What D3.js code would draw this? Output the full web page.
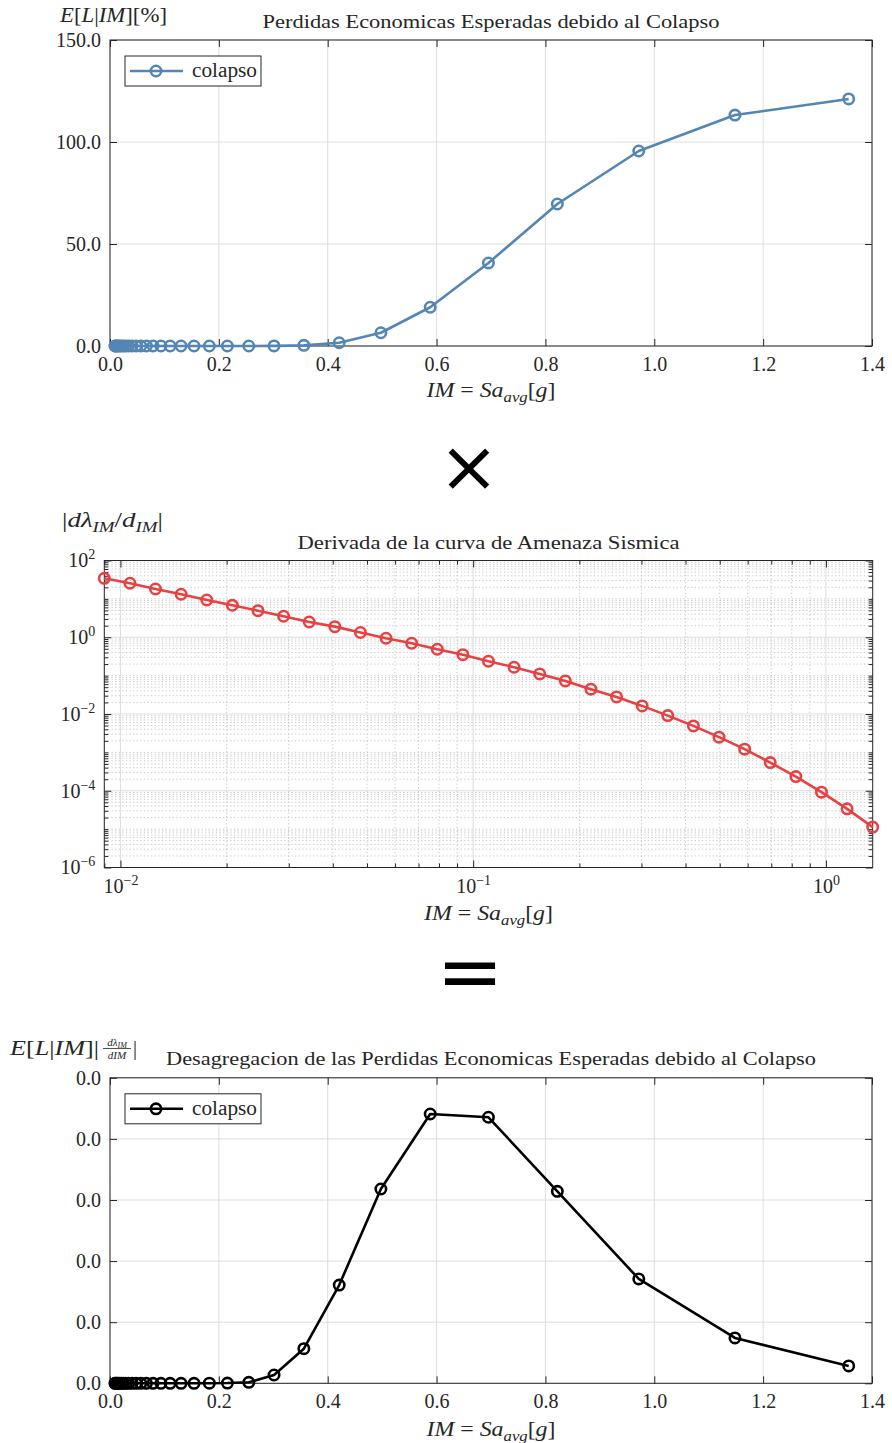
<!DOCTYPE html>
<html>
<head>
<meta charset="utf-8">
<script src="https://cdn.jsdelivr.net/npm/d3@7"></script>
<style>
  body { margin: 0; background: #fff; }
  svg { display: block; }
  text { font-family: "Liberation Serif", "Times New Roman", serif; fill: #262626; }
</style>
</head>
<body>
<svg id="fig" width="892" height="1443"></svg>
<script>
// Intensity measure levels, Sa_avg [g]
const imLevels = [0.00900, 0.01064, 0.01257, 0.01486, 0.01757, 0.02076, 0.02454, 0.02901,
  0.03429, 0.04053, 0.04791, 0.05662, 0.06693, 0.07911, 0.09351, 0.1105, 0.1306, 0.1544,
  0.1825, 0.2157, 0.2550, 0.3014, 0.3562, 0.4211, 0.4977, 0.5883, 0.6953, 0.8219, 0.9715,
  1.1482, 1.3572];

// Expected loss given IM due to collapse [%]
const lossPct = [0, 0, 0, 0, 0, 0, 0, 0, 0, 0, 0, 0, 0, 0, 0, 0, 0, 0,
  0.0001, 0.0005, 0.003, 0.04, 0.31, 1.6, 6.5, 19.0, 40.7, 69.6, 95.6, 113.2, 121.1];

// |d lambda_IM / d IM| of the seismic hazard curve
const hazardSlope = [34.4, 25.5, 18.1, 13.2, 9.36, 6.81, 4.93, 3.53, 2.50, 1.89, 1.33,
  0.942, 0.698, 0.487, 0.352, 0.237, 0.1655, 0.1107, 0.0728, 0.0443, 0.0279, 0.01625,
  0.00908, 0.0049, 0.00249, 0.00121, 0.000542, 0.000234, 9.2e-5, 3.38e-5, 1.13e-5];

// Disaggregated expected loss, E[L|IM] * |d lambda / d IM|
const lossDensity = [0, 0, 0, 0, 0, 0, 0, 0, 0, 0, 0, 0, 0, 0, 0, 0, 0, 0,
  1e-7, 2e-7, 8e-7, 6.8e-6, 2.83e-5, 8.04e-5, 1.59e-4, 2.204e-4, 2.177e-4, 1.571e-4,
  8.54e-5, 3.71e-5, 1.42e-5];

// Axis ticks
const imTicks = [0, 0.2, 0.4, 0.6, 0.8, 1.0, 1.2, 1.4];
const lossTicks = [0, 50, 100, 150];
const densityTicks = [0, 5e-5, 1e-4, 1.5e-4, 2e-4, 2.5e-4];
const imLogTicks = [0.01, 0.1, 1];
const slopeTicks = [1e-6, 1e-4, 1e-2, 1, 1e2];

const seriesName = "colapso";
const ink = "#262626";
const gridColor = "#dedede";
const markWidth = 2.6;
const markRadius = 5.2;
const svg = d3.select("#fig");

// Writes a run of text pieces (italic, shifted, resized) into one <text>
function mathText(parent, x, y, parts, size, anchor, fitWidth) {
  const t = parent.append("text")
    .attr("x", x).attr("y", y)
    .attr("font-size", size)
    .attr("text-anchor", anchor || "start");
  parts.forEach(p => {
    const s = t.append("tspan").text(p.t);
    if (p.i) s.attr("font-style", "italic");
    if (p.s) s.attr("font-size", p.s);
    if (p.dy) s.attr("dy", p.dy);
  });
  if (fitWidth) t.attr("textLength", fitWidth).attr("lengthAdjust", "spacingAndGlyphs");
  return t;
}

const imLabel = [
  { t: "IM", i: 1 }, { t: " = " }, { t: "Sa", i: 1 },
  { t: "avg", i: 1, s: 14, dy: 5 }, { t: "[", dy: -5 }, { t: "g", i: 1 }, { t: "]" }
];

function styleAxis(g) {
  g.attr("font-family", null).attr("font-size", 20).attr("color", ink);
  g.select(".domain").remove();
  g.selectAll(".tick line").attr("stroke", ink).attr("stroke-width", 1);
}

function drawSeries(g, x, y, yVals, color) {
  const pts = imLevels.map((v, i) => [v, yVals[i]]);
  g.append("path")
    .datum(pts)
    .attr("fill", "none")
    .attr("stroke", color)
    .attr("stroke-width", markWidth)
    .attr("stroke-linejoin", "round")
    .attr("d", d3.line().x(d => x(d[0])).y(d => y(d[1])));
  g.append("g").selectAll("circle").data(pts).join("circle")
    .attr("cx", d => x(d[0])).attr("cy", d => y(d[1]))
    .attr("r", markRadius)
    .attr("fill", "none")
    .attr("stroke", color)
    .attr("stroke-width", markWidth);
}

function drawLegend(g, x0, y0, color) {
  g.append("rect")
    .attr("x", x0).attr("y", y0).attr("width", 136).attr("height", 30)
    .attr("fill", "#fff").attr("stroke", ink).attr("stroke-width", 1);
  g.append("line")
    .attr("x1", x0 + 5).attr("x2", x0 + 58).attr("y1", y0 + 15).attr("y2", y0 + 15)
    .attr("stroke", color).attr("stroke-width", markWidth);
  g.append("circle")
    .attr("cx", x0 + 31).attr("cy", y0 + 15).attr("r", markRadius)
    .attr("fill", "none").attr("stroke", color).attr("stroke-width", markWidth);
  g.append("text")
    .attr("x", x0 + 67).attr("y", y0 + 21)
    .attr("font-size", 20)
    .attr("textLength", 65).attr("lengthAdjust", "spacingAndGlyphs")
    .text(seriesName);
}

// Linear panel (top and bottom)
function linearPanel(cfg) {
  const { x, y, yTicks, yVals, color, title, titleW, titleY, xLabelY } = cfg;
  const [X0, X1] = x.range();
  const [Y0, Y1] = y.range();
  const g = svg.append("g");

  g.append("g").selectAll("line").data(imTicks).join("line")
    .attr("x1", x).attr("x2", x).attr("y1", Y1).attr("y2", Y0)
    .attr("stroke", gridColor).attr("stroke-width", 1);
  g.append("g").selectAll("line").data(yTicks).join("line")
    .attr("x1", X0).attr("x2", X1).attr("y1", y).attr("y2", y)
    .attr("stroke", gridColor).attr("stroke-width", 1);

  g.append("g").attr("transform", `translate(0,${Y0})`)
    .call(d3.axisBottom(x).tickValues(imTicks).tickSize(-7).tickPadding(11).tickFormat(d3.format(".1f")))
    .call(styleAxis);
  g.append("g").attr("transform", `translate(0,${Y1})`)
    .call(d3.axisTop(x).tickValues(imTicks).tickSize(-7).tickFormat(""))
    .call(styleAxis);
  g.append("g").attr("transform", `translate(${X0},0)`)
    .call(d3.axisLeft(y).tickValues(yTicks).tickSize(-7).tickPadding(9).tickFormat(d3.format(".1f")))
    .call(styleAxis);
  g.append("g").attr("transform", `translate(${X1},0)`)
    .call(d3.axisRight(y).tickValues(yTicks).tickSize(-7).tickFormat(""))
    .call(styleAxis);

  g.append("rect")
    .attr("x", X0).attr("y", Y1).attr("width", X1 - X0).attr("height", Y0 - Y1)
    .attr("fill", "none").attr("stroke", ink).attr("stroke-width", 1);

  drawSeries(g, x, y, yVals, color);
  drawLegend(g, X0 + 15, Y1 + 16, color);

  g.append("text")
    .attr("x", (X0 + X1) / 2).attr("y", titleY)
    .attr("text-anchor", "middle").attr("font-size", 19)
    .attr("textLength", titleW).attr("lengthAdjust", "spacingAndGlyphs")
    .text(title);
  mathText(g, (X0 + X1) / 2, xLabelY, imLabel, 20, "middle", 129);
  return g;
}

// Top: expected loss
const xTop = d3.scaleLinear().domain([0, 1.4]).range([110, 872]);
const yTop = d3.scaleLinear().domain([0, 150]).range([346, 40]);
const gTop = linearPanel({
  x: xTop, y: yTop, yTicks: lossTicks, yVals: lossPct, color: "#5386b4",
  title: "Perdidas Economicas Esperadas debido al Colapso", titleW: 457, titleY: 28, xLabelY: 397
});
mathText(gTop, 60, 22, [
  { t: "E", i: 1 }, { t: "[" }, { t: "L", i: 1 }, { t: "|" }, { t: "IM", i: 1 }, { t: "][%]" }
], 20, "start", 107);

// Middle: hazard curve slope (log-log)
const xMid = d3.scaleLog().domain([imLevels[0], imLevels[imLevels.length - 1]]).range([104.3, 872.7]);
const yMid = d3.scaleLog().domain([1e-6, 1e2]).range([867.5, 560.5]);
{
  const g = svg.append("g");
  const [X0, X1] = xMid.range();
  const [Y0, Y1] = yMid.range();
  const [dx0, dx1] = xMid.domain();

  const xMinor = [];
  for (let e = -3; e <= 0; e++) for (let m = 2; m <= 9; m++) {
    const v = m * Math.pow(10, e);
    if (v >= dx0 * 0.999 && v <= dx1) xMinor.push(v);
  }
  const yMinor = [];
  for (let e = -6; e <= 1; e++) for (let m = 1; m <= 9; m++) {
    const v = m * Math.pow(10, e);
    if (m === 1 && e % 2 === 0) continue;
    yMinor.push(v);
  }

  // minor dotted grid
  g.append("g").selectAll("line").data(xMinor).join("line")
    .attr("x1", xMid).attr("x2", xMid).attr("y1", Y1).attr("y2", Y0)
    .attr("stroke", "#b8b8b8").attr("stroke-width", 0.8).attr("stroke-dasharray", "1.2,2.4");
  g.append("g").selectAll("line").data(yMinor).join("line")
    .attr("x1", X0).attr("x2", X1).attr("y1", yMid).attr("y2", yMid)
    .attr("stroke", "#b8b8b8").attr("stroke-width", 0.8).attr("stroke-dasharray", "1.2,2.4");
  // major grid
  g.append("g").selectAll("line").data(imLogTicks).join("line")
    .attr("x1", xMid).attr("x2", xMid).attr("y1", Y1).attr("y2", Y0)
    .attr("stroke", gridColor).attr("stroke-width", 1);
  g.append("g").selectAll("line").data(slopeTicks).join("line")
    .attr("x1", X0).attr("x2", X1).attr("y1", yMid).attr("y2", yMid)
    .attr("stroke", gridColor).attr("stroke-width", 1);

  const pow10 = function (d) {
    const el = d3.select(this);
    const e = Math.round(Math.log10(d));
    el.text(null);
    el.append("tspan").text("10");
    el.append("tspan").attr("font-size", 14).attr("dy", -8).text(e < 0 ? "\u2212" + (-e) : String(e));
  };

  g.append("g").attr("transform", `translate(0,${Y0})`)
    .call(d3.axisBottom(xMid).tickValues(imLogTicks).tickSize(-7).tickPadding(11))
    .call(styleAxis)
    .call(a => a.selectAll(".tick text").each(pow10));
  g.append("g").attr("transform", `translate(0,${Y0})`)
    .call(d3.axisBottom(xMid).tickValues(xMinor).tickSize(-4).tickFormat(""))
    .call(styleAxis);
  g.append("g").attr("transform", `translate(0,${Y1})`)
    .call(d3.axisTop(xMid).tickValues(imLogTicks).tickSize(-7).tickFormat(""))
    .call(styleAxis);
  g.append("g").attr("transform", `translate(0,${Y1})`)
    .call(d3.axisTop(xMid).tickValues(xMinor).tickSize(-4).tickFormat(""))
    .call(styleAxis);
  g.append("g").attr("transform", `translate(${X0},0)`)
    .call(d3.axisLeft(yMid).tickValues(slopeTicks).tickSize(-7).tickPadding(9))
    .call(styleAxis)
    .call(a => a.selectAll(".tick text").each(pow10));
  g.append("g").attr("transform", `translate(${X0},0)`)
    .call(d3.axisLeft(yMid).tickValues(yMinor).tickSize(-4).tickFormat(""))
    .call(styleAxis);
  g.append("g").attr("transform", `translate(${X1},0)`)
    .call(d3.axisRight(yMid).tickValues(slopeTicks).tickSize(-7).tickFormat(""))
    .call(styleAxis);
  g.append("g").attr("transform", `translate(${X1},0)`)
    .call(d3.axisRight(yMid).tickValues(yMinor).tickSize(-4).tickFormat(""))
    .call(styleAxis);

  g.append("rect")
    .attr("x", X0).attr("y", Y1).attr("width", X1 - X0).attr("height", Y0 - Y1)
    .attr("fill", "none").attr("stroke", ink).attr("stroke-width", 1);

  drawSeries(g, xMid, yMid, hazardSlope, "#e84142");

  g.append("text")
    .attr("x", (X0 + X1) / 2).attr("y", 549)
    .attr("text-anchor", "middle").attr("font-size", 19)
    .attr("textLength", 382).attr("lengthAdjust", "spacingAndGlyphs")
    .text("Derivada de la curva de Amenaza Sismica");
  mathText(g, (X0 + X1) / 2, 920, imLabel, 20, "middle", 129);
  mathText(g, 62, 527, [
    { t: "|" }, { t: "d\u03bb", i: 1 }, { t: "IM", i: 1, s: 14, dy: 5 }, { t: "/", dy: -5 },
    { t: "d", i: 1 }, { t: "IM", i: 1, s: 14, dy: 5 }, { t: "|", dy: -5 }
  ], 20, "start", 101);
}

// Bottom: disaggregation of expected loss
const yBot = d3.scaleLinear().domain([0, 2.5e-4]).range([1383.3, 1077.8]);
const gBot = linearPanel({
  x: xTop, y: yBot, yTicks: densityTicks, yVals: lossDensity, color: "#000",
  title: "Desagregacion de las Perdidas Economicas Esperadas debido al Colapso",
  titleW: 650, titleY: 1065, xLabelY: 1436
});
mathText(gBot, 10, 1055, [
  { t: "E", i: 1 }, { t: "[" }, { t: "L", i: 1 }, { t: "|" }, { t: "IM", i: 1 }, { t: "]|" }
], 20, "start", 89);
// stacked fraction d(lambda_IM)/dIM
mathText(gBot, 117, 1045.5, [{ t: "d\u03bb", i: 1 }, { t: "IM", i: 1, s: 8, dy: 2 }], 11, "middle");
gBot.append("line").attr("x1", 103).attr("x2", 131).attr("y1", 1048.5).attr("y2", 1048.5)
  .attr("stroke", ink).attr("stroke-width", 0.8);
mathText(gBot, 117, 1058.5, [{ t: "dIM", i: 1 }], 11, "middle");
gBot.append("text").attr("x", 133).attr("y", 1055).attr("font-size", 20).text("|");

// Operators between panels
svg.append("text")
  .attr("x", 469).attr("y", 491)
  .attr("text-anchor", "middle")
  .style("font-family", "'DejaVu Sans', sans-serif")
  .style("fill", "#000")
  .attr("font-size", 72)
  .text("\u00d7");
svg.append("text")
  .attr("x", 470).attr("y", 999)
  .attr("text-anchor", "middle")
  .style("font-family", "'DejaVu Sans', sans-serif")
  .style("fill", "#000")
  .attr("font-size", 80)
  .text("=");
</script>
</body>
</html>
